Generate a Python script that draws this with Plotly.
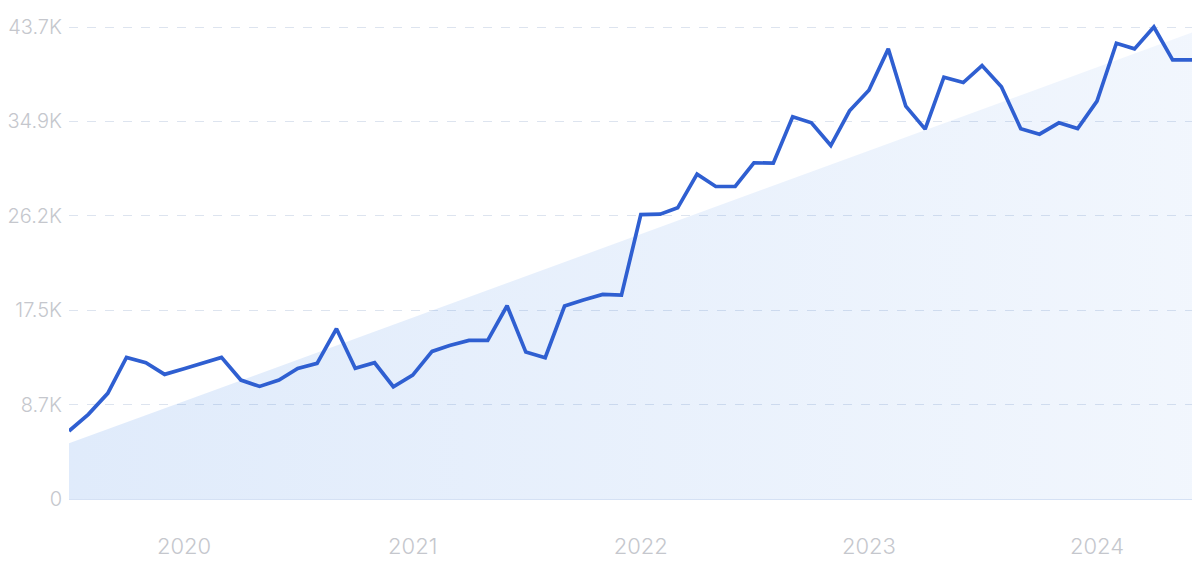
import plotly.graph_objects as go
import pandas as pd

# ---- data ----
start_month = "2019-07-01"
n_months = 60
values = [
    6290, 7835, 9777, 13107, 12610, 11532, 12056, 12580, 13107, 11007,
    10420, 11007, 12087, 12550, 15756, 12087, 12610, 10388, 11470, 13660,
    14210, 14677, 14677, 17883, 13597, 13073, 17852, 18407, 18931, 18870,
    26320, 26362, 26948, 30062, 28921, 28921, 31110, 31080, 35366, 34810,
    32710, 35921, 37833, 41656, 36352, 34225, 39035, 38543, 40114, 38150,
    34270, 33762, 34810, 34287, 36815, 42180, 41656, 43680, 40638, 40638,
]
trend_ends = [5150, 43170]
tick_vals = [0, 8736, 17472, 26208, 34944, 43680]
tick_text = ["0", "8.7K", "17.5K", "26.2K", "34.9K", "43.7K"]
year_ticks = ["2020-01-01", "2021-01-01", "2022-01-01", "2023-01-01", "2024-01-01"]
year_labels = ["2020", "2021", "2022", "2023", "2024"]

dates = pd.date_range(start_month, periods=n_months, freq="MS")
trend_dates = [dates[0], dates[-1]]

fig = go.Figure()
fig.add_trace(go.Scatter(
    x=trend_dates, y=trend_ends, mode="lines",
    line=dict(width=0, color="rgba(0,0,0,0)"),
    fill="tozeroy",
    fillgradient=dict(type="horizontal",
                      colorscale=[[0, "rgba(60,130,230,0.16)"],
                                  [1, "rgba(60,130,230,0.07)"]]),
    hoverinfo="skip", showlegend=False,
))
fig.add_trace(go.Scatter(
    x=dates, y=values, mode="lines",
    line=dict(color="#2f5fd1", width=3.7),
    showlegend=False,
))

# the page body has an 8px default margin, so the figure is offset by 8px
fig.update_layout(
    width=1192, height=557,
    margin=dict(l=61, r=8, t=9, b=66),
    paper_bgcolor="white", plot_bgcolor="white",
    font=dict(family="Inter, 'Open Sans', sans-serif"),
)
fig.update_xaxes(
    type="date", automargin=False,
    range=[dates[0], dates[-1]],
    tickvals=year_ticks, ticktext=year_labels,
    showgrid=False, zeroline=False, showline=False,
    ticks="outside", ticklen=28, tickcolor="rgba(0,0,0,0)",
    tickfont=dict(size=22, color="#c5c7cd", weight=300),
)
fig.update_yaxes(
    automargin=False,
    range=[0, 44605],
    tickvals=tick_vals, ticktext=tick_text,
    showgrid=True, gridcolor="#dde4ef", griddash="dash", gridwidth=1,
    zeroline=True, zerolinecolor="#d5e1f4", zerolinewidth=1,
    showline=False,
    ticks="outside", ticklen=2, tickcolor="rgba(0,0,0,0)",
    tickfont=dict(size=20, color="#c5c7cd", weight=300),
)

fig.write_html("out.html")
